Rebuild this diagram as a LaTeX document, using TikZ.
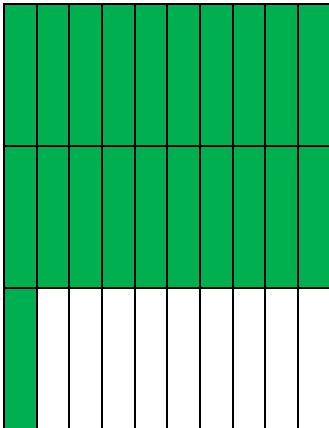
\documentclass[tikz,border=0pt]{standalone}
\definecolor{cellgreen}{HTML}{00B050}
\tikzset{gridline/.style={draw=black,line width=2pt}}
\begin{document}
\begin{tikzpicture}[x=1pt,y=-1pt]
\useasboundingbox (0,0) rectangle (329,428);
\clip (0,0) rectangle (329,428);
% green cells
\fill[cellgreen] (4,4) rectangle (340,288);
\fill[cellgreen] (4,288) rectangle (36.67,440);
% vertical lines
\foreach \i in {0,...,10} {
  \draw[gridline] ({4+32.67*\i},3) -- ({4+32.67*\i},440);
}
% horizontal lines
\foreach \y in {4,146,288} {
  \draw[gridline] (3,\y) -- (340,\y);
}
\end{tikzpicture}
\end{document}
